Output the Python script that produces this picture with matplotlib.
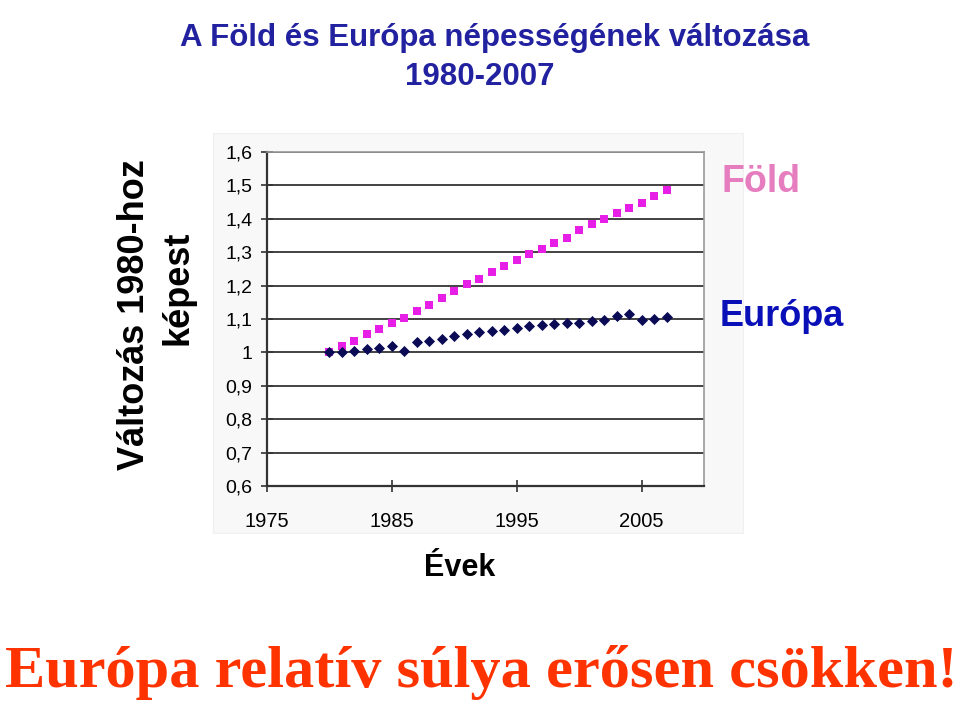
import matplotlib
matplotlib.use("Agg")
import matplotlib.pyplot as plt
from matplotlib.patches import Rectangle

# data
years = list(range(1980, 2008))
fold = [1.000, 1.020, 1.035, 1.055, 1.071, 1.087, 1.102, 1.125, 1.142, 1.164,
        1.183, 1.204, 1.221, 1.241, 1.258, 1.276, 1.295, 1.311, 1.327, 1.344,
        1.366, 1.383, 1.399, 1.416, 1.432, 1.448, 1.469, 1.487]
europa = [1.000, 1.000, 1.005, 1.010, 1.014, 1.020, 1.005, 1.031, 1.035, 1.039,
          1.049, 1.054, 1.061, 1.064, 1.068, 1.073, 1.078, 1.082, 1.084, 1.089,
          1.089, 1.093, 1.097, 1.110, 1.114, 1.098, 1.101, 1.106]
x_ticks = [1975, 1985, 1995, 2005]
y_ticks = [0.6, 0.7, 0.8, 0.9, 1.0, 1.1, 1.2, 1.3, 1.4, 1.5, 1.6]
y_labels = ["0,6", "0,7", "0,8", "0,9", "1", "1,1", "1,2", "1,3", "1,4", "1,5", "1,6"]

W, H = 960, 704
fig = plt.figure(figsize=(W / 100, H / 100), dpi=100)
plt.rcParams['font.family'] = ['Liberation Sans', 'DejaVu Sans']

# faint chart-area backdrop
fig.patches.append(Rectangle((213 / W, 1 - 533 / H), (743 - 213) / W, (533 - 133) / H,
                             transform=fig.transFigure, facecolor='#F8F8F8',
                             edgecolor='#F0F0F0', lw=0.8, zorder=-5))

ax = fig.add_axes([267 / W, 1 - 486 / H, (704 - 267) / W, (486 - 152) / H])
ax.set_zorder(2)
ax.set_facecolor('white')
ax.set_xlim(1975, 2010)
ax.set_ylim(0.6, 1.6)

ax.scatter(years, fold, marker='s', s=36, color='#E61EE6', zorder=3, linewidths=0)
ax.scatter(years, europa, marker='D', s=32, color='#0A0A55', zorder=4, linewidths=0)

ax.set_yticks(y_ticks)
ax.set_yticklabels(y_labels)
ax.set_xticks(x_ticks)
ax.tick_params(axis='both', direction='inout', length=9, width=1.2, color='#333333')
ax.tick_params(axis='y', labelsize=14, pad=6)
ax.tick_params(axis='x', labelsize=14.5, pad=14)
ax.grid(axis='y', color='#222222', lw=1.2)
ax.set_axisbelow(True)
for side in ['left', 'bottom']:
    ax.spines[side].set_color('#333333')
    ax.spines[side].set_linewidth(1.6)
for side in ['top', 'right']:
    ax.spines[side].set_color('#999999')
    ax.spines[side].set_linewidth(1.2)

# titles and labels
fig.text(495 / W, 1 - 38 / H, "A Föld és Európa népességének változása",
         ha='center', va='center', fontsize=22.5, fontweight='bold', color='#2222A0')
fig.text(480 / W, 1 - 77 / H, "1980-2007",
         ha='center', va='center', fontsize=22.5, fontweight='bold', color='#2222A0')

fig.text(135 / W, 1 - 315 / H, "Változás 1980-hoz", rotation=90,
         ha='center', va='center', fontsize=26, fontweight='bold', color='black')
fig.text(178 / W, 1 - 288 / H, "képest", rotation=90,
         ha='center', va='center', fontsize=26, fontweight='bold', color='black')

fig.text(460 / W, 1 - 568 / H, "Évek", ha='center', va='center',
         fontsize=22, fontweight='bold', color='black')

fig.text(722 / W, 1 - 182 / H, "Föld", ha='left', va='center',
         fontsize=27, fontweight='bold', color='#E57DBE')
fig.text(720 / W, 1 - 316 / H, "Európa", ha='left', va='center',
         fontsize=26, fontweight='bold', color='#0A10B8')

fig.text(5 / W, 1 - 687 / H, "Európa relatív súlya erősen csökken!",
         ha='left', va='baseline', fontsize=43.5, fontweight='bold',
         family=['Liberation Serif', 'DejaVu Serif'], color='#FF3300')

fig.savefig("out.png", dpi=100)
